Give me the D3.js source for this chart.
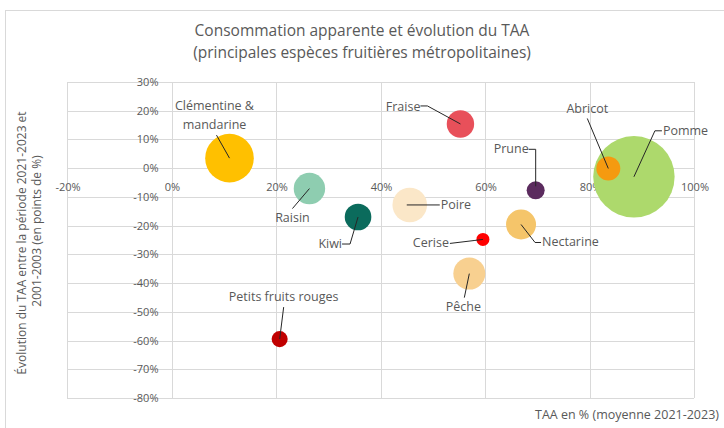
<!DOCTYPE html>
<html>
<head>
<meta charset="utf-8">
<script src="https://cdn.jsdelivr.net/npm/d3@7"></script>
<style>
  body { margin: 0; background: #fff; }
  svg { display: block; font-family: "Open Sans", sans-serif; }
</style>
</head>
<body>
<svg id="chart" width="724" height="428"></svg>
<script>
// Data
const fruits = ['Clémentine & mandarine', 'Raisin', 'Kiwi', 'Poire', 'Cerise', 'Fraise',
                'Prune', 'Abricot', 'Pomme', 'Nectarine', 'Pêche', 'Petits fruits rouges'];
const taa = [11.1, 26.4, 35.7, 45.6, 59.6, 55.3, 69.7, 83.6, 88.5, 66.9, 57.0, 20.7];        // x, %
const evolution = [3.5, -7.1, -17.0, -12.8, -24.8, 15.4, -7.7, -0.1, -3.0, -19.6, -36.7, -59.5]; // y, points de %
const consommation = [321, 134, 96, 163, 23, 102, 44, 78, 900, 122, 139, 35];               // bubble size
const colors = ['#FFC000', '#8ECDB0', '#0B6B5C', '#FBE7C8', '#FF0000', '#E8505A',
                '#5B2B5E', '#F59A10', '#ADD96C', '#F5C56A', '#F8D090', '#C00000'];

const xTicks = [-20, 0, 20, 40, 60, 80, 100];
const yTicks = [30, 20, 10, 0, -10, -20, -30, -40, -50, -60, -70, -80];

// Label placement relative to bubble centre (px): text offset, anchor, leader polyline
const labelLayout = {
  'Clémentine & mandarine': { dx: -15, dy: -48, anchor: 'middle', lines: ['Clémentine &', 'mandarine'], leader: [[-13, -23], [0, 0]] },
  'Raisin': { dx: -17, dy: 33, anchor: 'middle', leader: [[-17, 20], [0, 0]] },
  'Kiwi': { dx: -16, dy: 31, anchor: 'end', leader: [[-16, 27], [-8, 27], [0, 0]] },
  'Poire': { dx: 31, dy: 4, anchor: 'start', leader: [[30, 0], [-3, 0]] },
  'Cerise': { dx: -34, dy: 8, anchor: 'end', leader: [[-33, 4], [-8, 1], [0, 0]] },
  'Fraise': { dx: -40, dy: -13, anchor: 'end', leader: [[-40, -18], [-33, -18], [0, 0]] },
  'Prune': { dx: -7, dy: -37, anchor: 'end', leader: [[-7, -41], [0, -41], [0, -4]] },
  'Abricot': { dx: -21, dy: -55, anchor: 'middle', leader: [[-21, -50], [0, 0]] },
  'Pomme': { dx: 29, dy: -42, anchor: 'start', leader: [[28, -46], [21, -46], [0, 0]] },
  'Nectarine': { dx: 21, dy: 22, anchor: 'start', leader: [[20, 18], [14, 18], [0, 0]] },
  'Pêche': { dx: -6, dy: 37, anchor: 'middle', leader: [[-5, 24], [0, 0]] },
  'Petits fruits rouges': { dx: 4, dy: -38, anchor: 'middle', leader: [[4, -32], [0, 0]] }
};

const data = fruits.map((name, i) => ({
  name, x: taa[i], y: evolution[i], size: consommation[i], color: colors[i]
}));

const svg = d3.select('#chart');
const textColor = '#595959';
const gridColor = '#D9D9D9';

// Chart border
svg.append('rect')
  .attr('x', 5.5).attr('y', 10.5)
  .attr('width', 730).attr('height', 430)
  .attr('fill', '#fff')
  .attr('stroke', '#D9D9D9');

const xScale = d3.scaleLinear().domain([-20, 100]).range([67, 694]);
const yScale = d3.scaleLinear().domain([-80, 30]).range([398, 82]);
const rScale = d3.scaleSqrt().domain([0, d3.max(consommation)]).range([0, 40.7]);

// Gridlines
const grid = svg.append('g');
grid.selectAll('.vgrid')
  .data(xTicks)
  .enter().append('line')
  .attr('x1', d => Math.round(xScale(d)) + 0.5)
  .attr('x2', d => Math.round(xScale(d)) + 0.5)
  .attr('y1', yScale(30)).attr('y2', yScale(-80))
  .attr('stroke', gridColor);
grid.selectAll('.hgrid')
  .data(yTicks)
  .enter().append('line')
  .attr('x1', xScale(-20)).attr('x2', xScale(100))
  .attr('y1', d => Math.round(yScale(d)) + 0.5)
  .attr('y2', d => Math.round(yScale(d)) + 0.5)
  .attr('stroke', gridColor);

// Tick labels (axes cross at 0)
svg.append('g').selectAll('text')
  .data(yTicks)
  .enter().append('text')
  .attr('x', xScale(0) - 13)
  .attr('y', d => yScale(d) + 4)
  .attr('text-anchor', 'end')
  .attr('font-size', '11px')
  .attr('fill', textColor)
  .text(d => d + '%');

svg.append('g').selectAll('text')
  .data(xTicks)
  .enter().append('text')
  .attr('x', d => xScale(d) + 1)
  .attr('y', yScale(0) + 23)
  .attr('text-anchor', 'middle')
  .attr('font-size', '11px')
  .attr('fill', textColor)
  .text(d => d + '%');

// Bubbles, largest first
const sorted = data.slice().sort((a, b) => b.size - a.size);
svg.append('g').selectAll('circle')
  .data(sorted)
  .enter().append('circle')
  .attr('cx', d => xScale(d.x))
  .attr('cy', d => yScale(d.y))
  .attr('r', d => rScale(d.size))
  .attr('fill', d => d.color);

// Leader lines
const line = d3.line();
svg.append('g').selectAll('path')
  .data(data)
  .enter().append('path')
  .attr('d', d => {
    const cx = xScale(d.x), cy = yScale(d.y);
    return line(labelLayout[d.name].leader.map(p => [cx + p[0], cy + p[1]]));
  })
  .attr('fill', 'none')
  .attr('stroke', '#262626')
  .attr('stroke-width', 1);

// Data labels
const labels = svg.append('g').selectAll('text')
  .data(data)
  .enter().append('text')
  .attr('x', d => xScale(d.x) + labelLayout[d.name].dx)
  .attr('y', d => yScale(d.y) + labelLayout[d.name].dy)
  .attr('text-anchor', d => labelLayout[d.name].anchor)
  .attr('font-size', '12.5px')
  .attr('fill', textColor);
labels.each(function(d) {
  const lines = labelLayout[d.name].lines || [d.name];
  const t = d3.select(this);
  lines.forEach((l, i) => {
    t.append('tspan')
      .attr('x', xScale(d.x) + labelLayout[d.name].dx)
      .attr('dy', i === 0 ? 0 : 19)
      .text(l);
  });
});

// Title
svg.append('text')
  .attr('x', 362).attr('y', 36)
  .attr('text-anchor', 'middle')
  .attr('font-size', '15.5px')
  .attr('fill', textColor)
  .text('Consommation apparente et évolution du TAA');
svg.append('text')
  .attr('x', 362).attr('y', 58)
  .attr('text-anchor', 'middle')
  .attr('font-size', '15.5px')
  .attr('fill', textColor)
  .text('(principales espèces fruitières métropolitaines)');

// Axis titles
const yTitle = svg.append('text')
  .attr('transform', 'translate(26, 243) rotate(-90)')
  .attr('text-anchor', 'middle')
  .attr('font-size', '12px')
  .attr('fill', textColor);
yTitle.append('tspan').attr('x', 0).attr('y', 0).text('Évolution du TAA entre la période 2021-2023 et');
yTitle.append('tspan').attr('x', 12).attr('y', 15).text('2001-2003 (en points de %)');

svg.append('text')
  .attr('x', 719).attr('y', 419)
  .attr('text-anchor', 'end')
  .attr('font-size', '12.5px')
  .attr('fill', textColor)
  .text('TAA en % (moyenne 2021-2023)');
</script>
</body>
</html>
